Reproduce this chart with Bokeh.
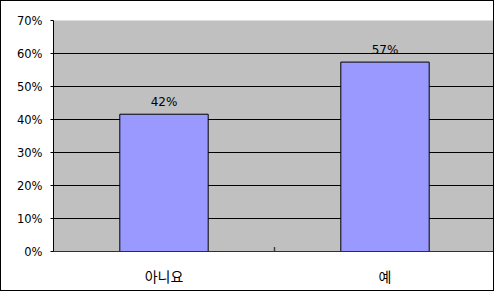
from bokeh.plotting import figure
from bokeh.models import ColumnDataSource, FixedTicker, NumeralTickFormatter, Range1d, FactorRange
from bokeh.core.properties import value
from bokeh.transform import dodge
from bokeh.embed import file_html
from bokeh.resources import INLINE

categories = ["아니요", "예"]
values = [0.416, 0.574]
labels = ["42%", "57%"]
y_ticks = [0.0, 0.1, 0.2, 0.3, 0.4, 0.5, 0.6, 0.7]

src = ColumnDataSource(dict(cat=categories, val=values, lab=labels))
sep = ColumnDataSource(dict(cat=categories[1:]))

p = figure(width=494, height=291, x_range=FactorRange(*categories, range_padding=0),
           y_range=Range1d(0, 0.7), output_backend="svg", toolbar_location=None,
           min_border_left=52, min_border_right=0, min_border_top=19, min_border_bottom=41)
p.styles = {"border": "1px solid #000", "box-sizing": "border-box"}
p.x_range.range_padding = 0
p.background_fill_color = "#C0C0C0"
p.border_fill_color = "#FFFFFF"
p.outline_line_color = None

p.vbar(x="cat", top="val", width=0.4, source=src, fill_color="#9999FF",
       line_color="#000000", line_width=1)
p.text(x="cat", y="val", text="lab", source=src, text_align="center",
       text_baseline="bottom", y_offset=-5, text_font=value("DejaVu Sans"),
       text_font_size="12px", text_color="#000000")
# category separator tick on the x axis
p.segment(x0=dodge("cat", -0.5, range=p.x_range), x1=dodge("cat", -0.5, range=p.x_range),
          y0=0, y1=0.014, source=sep, line_color="#404040", line_width=1.5)

p.yaxis.ticker = FixedTicker(ticks=y_ticks)
p.yaxis.formatter = NumeralTickFormatter(format="0%")
p.yaxis.major_tick_out = 3
p.yaxis.major_tick_in = 0
p.yaxis.minor_tick_line_color = None
p.yaxis.axis_line_color = "#000000"
p.yaxis.major_tick_line_color = "#000000"
p.yaxis.major_label_standoff = 8
p.yaxis.major_label_text_font = "DejaVu Sans"
p.yaxis.major_label_text_font_size = "11.5px"
p.yaxis.major_label_text_color = "#000000"

p.xaxis.major_tick_line_color = None
p.xaxis.axis_line_color = "#303030"
p.xaxis.major_label_standoff = 8
p.xaxis.major_label_text_font = "Noto Sans CJK KR"
p.xaxis.major_label_text_font_size = "14px"
p.xaxis.major_label_text_color = "#000000"

p.xgrid.grid_line_color = None
p.ygrid.ticker = FixedTicker(ticks=y_ticks)
p.ygrid.grid_line_color = "#000000"
p.ygrid.grid_line_alpha = 1.0

open("out.html", "w").write(file_html(p, INLINE))
